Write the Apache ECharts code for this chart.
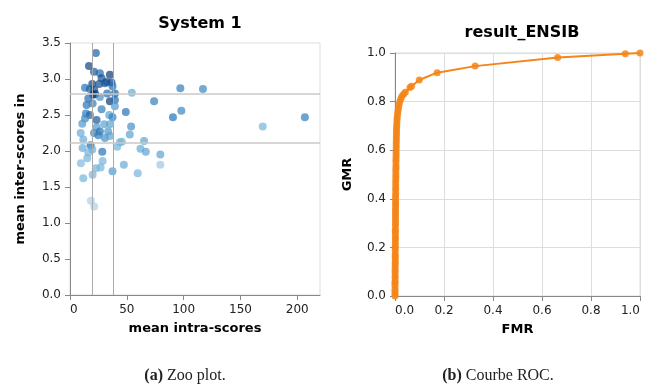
<!DOCTYPE html>
<html><head><meta charset="utf-8">
<script src="https://cdn.jsdelivr.net/npm/echarts@6.0.0/dist/echarts.min.js"></script>
<style>html,body{margin:0;padding:0;background:#fff}#c{width:646px;height:385px}</style>
</head><body><div id="c"></div>
<script>
// ---- Zoo plot data ----
const zooX = [22.8,16.7,21.1,26.3,35.1,27.8,32.2,36.5,19.6,25.7,30.7,13.2,17.5,21.3,37.4,32.7,39.5,20.5,22.2,16.1,26.3,35.1,39.5,14.6,19.9,27.8,39.5,14.0,17.5,13.2,34.5,37.4,23.4,10.8,30.1,35.1,23.4,21.1,26.3,33.6,9.4,24.9,30.7,35.1,11.7,18.1,43.9,41.5,45.6,11.1,19.6,16.1,28.4,15.2,28.7,9.6,22.8,26.9,19.9,37.4,11.7,47.4,18.4,21.3,54.4,74.0,49.1,53.8,52.6,65.2,62.0,66.7,79.5,79.5,59.6,97.1,117.0,90.6,98.0,169.6,206.7];
const zooY = [3.36,3.18,3.10,3.08,3.06,3.01,2.96,2.95,2.93,2.93,2.94,2.88,2.86,2.85,2.90,2.80,2.80,2.78,2.79,2.73,2.75,2.69,2.71,2.64,2.66,2.58,2.62,2.52,2.50,2.45,2.50,2.47,2.43,2.38,2.37,2.37,2.33,2.25,2.27,2.27,2.25,2.22,2.18,2.21,2.16,2.08,2.12,2.06,2.13,2.04,2.02,1.98,1.99,1.90,1.86,1.83,1.76,1.77,1.67,1.72,1.62,1.81,1.31,1.23,2.81,2.69,2.54,2.34,2.23,2.14,2.03,1.99,1.95,1.81,1.69,2.87,2.86,2.47,2.56,2.34,2.47];
const zooTone = [0.75,0.9,0.8,0.7,0.95,0.85,0.9,0.9,0.9,0.85,0.8,0.65,0.75,0.85,0.7,0.7,0.75,0.95,0.95,0.7,0.5,0.95,0.7,0.65,0.6,0.6,0.45,0.6,0.75,0.55,0.4,0.6,0.8,0.45,0.4,0.4,0.45,0.55,0.65,0.45,0.35,0.6,0.5,0.4,0.35,0.7,0.3,0.3,0.3,0.35,0.35,0.3,0.65,0.3,0.3,0.25,0.3,0.3,0.3,0.45,0.3,0.35,0.1,0.1,0.35,0.6,0.65,0.5,0.4,0.4,0.35,0.4,0.4,0.15,0.3,0.6,0.55,0.65,0.55,0.3,0.6];
const zooRefX = [19.3, 38.0];
const zooRefY = [2.80, 2.11];
const zooXTicks = [0, 50, 100, 150, 200];

// ---- ROC data ----
const rocFMR = [0,0,0,0,0,0,0.0005,0.0005,0.0005,0.0005,0.0005,0.0005,0.001,0.001,0.001,0.001,0.001,0.001,0.001,0.001,0.0015,0.0015,0.0015,0.0015,0.0015,0.0015,0.002,0.002,0.002,0.002,0.002,0.002,0.002,0.0025,0.0025,0.0025,0.0025,0.0025,0.003,0.003,0.003,0.003,0.003,0.0035,0.0035,0.0035,0.0035,0.004,0.004,0.004,0.004,0.0045,0.0045,0.0045,0.005,0.005,0.005,0.0055,0.0055,0.006,0.006,0.0065,0.007,0.0075,0.008,0.009,0.0105,0.012,0.014,0.016,0.019,0.023,0.028,0.035,0.042,0.061,0.067,0.099,0.172,0.327,0.664,0.94,1.0];
const rocGMR = [0,0.008,0.019,0.027,0.041,0.052,0.06,0.074,0.083,0.097,0.106,0.118,0.131,0.139,0.152,0.163,0.171,0.186,0.198,0.207,0.219,0.232,0.241,0.255,0.266,0.274,0.289,0.298,0.311,0.322,0.333,0.345,0.356,0.367,0.379,0.388,0.401,0.413,0.424,0.436,0.445,0.458,0.47,0.481,0.493,0.504,0.517,0.528,0.539,0.552,0.563,0.575,0.586,0.598,0.61,0.621,0.633,0.644,0.656,0.667,0.678,0.69,0.701,0.712,0.724,0.736,0.748,0.76,0.772,0.785,0.798,0.81,0.822,0.83,0.838,0.858,0.863,0.889,0.919,0.946,0.981,0.997,1.0];

const FONT = 'DejaVu Sans';
const zooData = zooX.map((x, i) => [x, zooY[i], zooTone[i]]);
const rocData = rocFMR.map((x, i) => [x, rocGMR[i]]);
const fmt1 = v => (Math.round(v * 10) / 10 === 0 ? '0.0' : (Math.round(v * 10) / 10).toFixed(1));

const axisCommon = {
  axisLine: { show: true, onZero: false, lineStyle: { color: '#888', width: 1 } },
  axisTick: { show: true, length: 5, lineStyle: { color: '#888' } },
  nameTextStyle: { fontFamily: FONT, fontWeight: 'bold', fontSize: 13, color: '#000' },
};
const lbl = (extra) => Object.assign({ fontFamily: FONT, fontSize: 12, color: '#222' }, extra);
const capStyle = { fontFamily: 'Liberation Serif', fontSize: 16, fontWeight: 'normal', color: '#222',
  rich: { b: { fontFamily: 'Liberation Serif', fontSize: 16, fontWeight: 'bold', color: '#222' },
          n: { fontFamily: 'Liberation Serif', fontSize: 16, fontWeight: 'normal', color: '#222' } } };

const chart = echarts.init(document.getElementById('c'), null, { renderer: 'canvas' });
chart.setOption({
  animation: false,
  backgroundColor: '#fff',
  title: [
    { text: 'System 1', left: 195, top: 11, textAlign: 'center',
      textStyle: { fontFamily: FONT, fontWeight: 'bold', fontSize: 16, color: '#000' } },
    { text: 'result_ENSIB', left: 517, top: 20, textAlign: 'center',
      textStyle: { fontFamily: FONT, fontWeight: 'bold', fontSize: 16, color: '#000' } },
    { text: '{b|(a)}{n| Zoo plot.}', left: 180, top: 363, textAlign: 'center', textStyle: capStyle },
    { text: '{b|(b)}{n| Courbe ROC.}', left: 493, top: 363, textAlign: 'center', textStyle: capStyle }
  ],
  grid: [
    { left: 70, top: 43, width: 250, height: 252, show: true, borderColor: '#ddd', borderWidth: 1, backgroundColor: 'transparent' },
    { left: 395, top: 53, width: 245, height: 243, show: true, borderColor: '#ddd', borderWidth: 1, backgroundColor: 'transparent' }
  ],
  xAxis: [
    Object.assign({}, axisCommon, {
      gridIndex: 0, type: 'value', min: 0, max: 220,
      name: 'mean intra-scores', nameLocation: 'middle', nameGap: 27,
      splitLine: { show: false },
      axisTick: Object.assign({}, axisCommon.axisTick, { customValues: zooXTicks }),
      axisLabel: lbl({ margin: 9, customValues: zooXTicks, alignMinLabel: 'left' })
    }),
    Object.assign({}, axisCommon, {
      gridIndex: 1, type: 'value', min: 0, max: 1, interval: 0.2,
      name: 'FMR', nameLocation: 'middle', nameGap: 27,
      splitLine: { show: true, lineStyle: { color: '#ddd', width: 1 } },
      axisLabel: lbl({ margin: 9, alignMinLabel: 'left', alignMaxLabel: 'right', formatter: fmt1 })
    })
  ],
  yAxis: [
    Object.assign({}, axisCommon, {
      gridIndex: 0, type: 'value', min: 0, max: 3.5, interval: 0.5,
      name: 'mean inter-scores in', nameLocation: 'middle', nameGap: 43,
      splitLine: { show: false },
      axisLabel: lbl({ margin: 9, formatter: fmt1 })
    }),
    Object.assign({}, axisCommon, {
      gridIndex: 1, type: 'value', min: 0, max: 1, interval: 0.2,
      name: 'GMR', nameLocation: 'middle', nameGap: 41,
      splitLine: { show: true, lineStyle: { color: '#ddd', width: 1 } },
      axisLabel: lbl({ margin: 9, formatter: fmt1 })
    })
  ],
  visualMap: {
    show: false, type: 'continuous', seriesIndex: 1, dimension: 2, min: 0, max: 1,
    inRange: { color: ['#c6dbef', '#6baed6', '#2171b5', '#08306b'] }
  },
  series: [
    { type: 'scatter', xAxisIndex: 0, yAxisIndex: 0, data: [], z: 1, silent: true,
      markLine: {
        silent: true, symbol: ['none', 'none'], label: { show: false }, animation: false,
        data: zooRefX.map(v => ({ xAxis: v, lineStyle: { color: '#aaa', width: 1, type: 'solid' } }))
          .concat(zooRefY.map(v => ({ yAxis: v, lineStyle: { color: '#c8c8c8', width: 1.5, type: 'solid' } })))
      } },
    { type: 'scatter', xAxisIndex: 0, yAxisIndex: 0, data: zooData, symbol: 'circle', symbolSize: 8, z: 3,
      itemStyle: { opacity: 0.7 } },
    { type: 'line', xAxisIndex: 1, yAxisIndex: 1, data: rocData, symbol: 'circle', symbolSize: 7, showSymbol: true,
      lineStyle: { color: '#f58518', width: 2 }, itemStyle: { color: '#f58518', opacity: 0.85 }, z: 3 }
  ]
});
</script>
</body></html>
